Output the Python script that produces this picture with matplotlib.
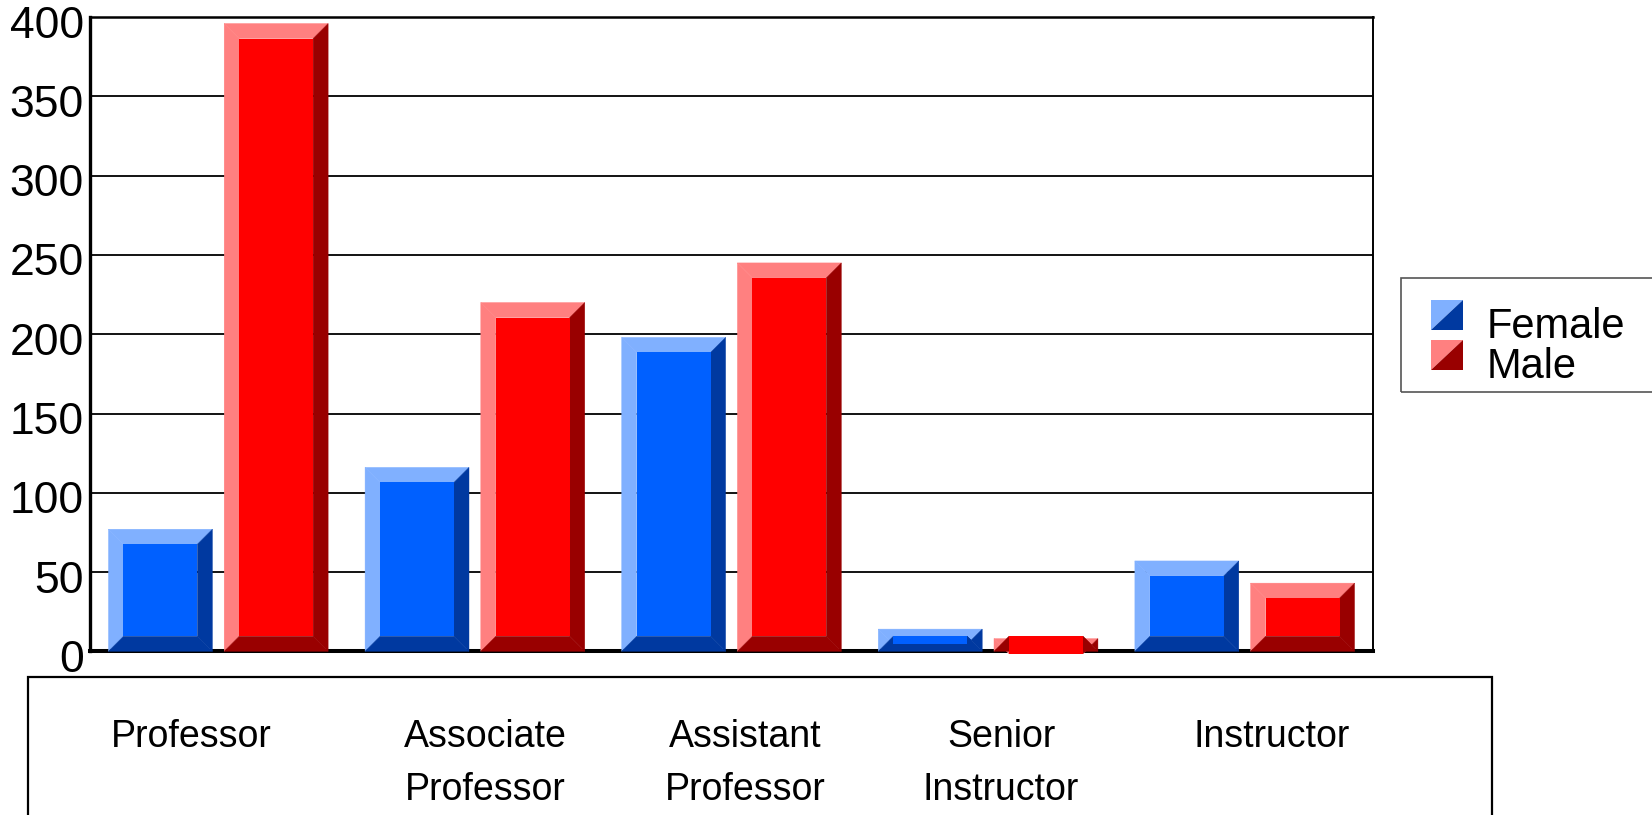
import matplotlib.pyplot as plt
import matplotlib.transforms as mtransforms
from matplotlib.patches import Polygon, Rectangle

# Data
categories = ['Professor', 'Associate\nProfessor', 'Assistant\nProfessor',
              'Senior\nInstructor', 'Instructor']
female = [77, 116, 198, 14, 57]
male = [396, 220, 245, 8, 43]
series_names = ['Female', 'Male']
yticks = [0, 50, 100, 150, 200, 250, 300, 350, 400]

# colours: face, light bevel, dark bevel
female_colors = ('#0060FF', '#80B0FF', '#0039A0')
male_colors = ('#FF0000', '#FF8080', '#990000')

W, H = 1652, 815
fig = plt.figure(figsize=(W / 100, H / 100), dpi=100)
plt.rcParams['font.family'] = ['Liberation Sans', 'DejaVu Sans']


def fx(px):
    return px / W


def fy(py):
    return 1 - py / H


# plot area in pixels
left_px, right_px, top_px, bottom_px = 90, 1373, 17.2, 651.3
ax = fig.add_axes([fx(left_px), fy(bottom_px),
                   fx(right_px) - fx(left_px), fy(top_px) - fy(bottom_px)])
ax.set_xlim(0, len(categories))
ax.set_ylim(0, 400)

# bevel width is a fixed number of pixels, converted to data units
bevel_px = 15
dx = bevel_px * len(categories) / (right_px - left_px)
dy = bevel_px * 400 / (bottom_px - top_px)


def bevel_bar(x0, w, h, colors):
    face, light, dark = colors
    x1 = x0 + w
    ix0, ix1 = x0 + dx, x1 - dx
    it, ib = h - dy, dy
    polys = [
        ([(x0, 0), (x0, h), (ix0, it), (ix0, ib)], light),
        ([(x0, h), (x1, h), (ix1, it), (ix0, it)], light),
        ([(x1, h), (x1, 0), (ix1, ib), (ix1, it)], dark),
        ([(x0, 0), (x1, 0), (ix1, ib), (ix0, ib)], dark),
    ]
    for pts, c in polys:
        ax.add_patch(Polygon(pts, closed=True, facecolor=c, edgecolor=c,
                             lw=0.3, zorder=3, clip_on=False))
    ax.add_patch(Rectangle((ix0, min(it, ib)), ix1 - ix0, abs(it - ib),
                           facecolor=face, edgecolor='none', zorder=4,
                           clip_on=False))


width = 0.405
offset = 0.2255
for i in range(len(categories)):
    c = i + 0.5
    bevel_bar(c - offset - width / 2, width, female[i], female_colors)
    bevel_bar(c + offset - width / 2, width, male[i], male_colors)

# grid and frame
ax.set_yticks(yticks)
ax.set_xticks([])
ax.yaxis.grid(True, color='black', lw=1.3)
ax.set_axisbelow(True)
ax.tick_params(axis='y', length=0, labelleft=False)
ax.spines['left'].set_linewidth(2.4)
ax.spines['top'].set_linewidth(1.8)
ax.spines['right'].set_linewidth(1.4)
ax.spines['bottom'].set_linewidth(2.9)

# y tick labels, shifted a little below their grid lines
shift = mtransforms.ScaledTranslation(-6 / 100, -9 / 100, fig.dpi_scale_trans)
for v in yticks:
    ax.text(0, v, str(v), transform=ax.get_yaxis_transform() + shift,
            ha='right', va='center', fontsize=32)

# category label box underneath
fig.patches.append(Rectangle((fx(28), fy(840)), fx(1492) - fx(28), fy(677) - fy(840),
                             transform=fig.transFigure, fill=False,
                             edgecolor='black', lw=1.6))
label_x = [191, 485, 745, 1001, 1272]
for lx, lab in zip(label_x, categories):
    for j, line in enumerate(lab.split('\n')):
        fig.text(fx(lx), fy(747 + 53 * j), line, ha='center', va='baseline',
                 fontsize=27)

# legend
fig.patches.append(Rectangle((fx(1401), fy(392)), fx(1680) - fx(1401), fy(278) - fy(392),
                             transform=fig.transFigure, fill=False,
                             edgecolor='#555555', lw=1.2))
for k, (name, cols) in enumerate(zip(series_names, [female_colors, male_colors])):
    y0 = 300 + 40 * k
    y1 = y0 + 30
    xa, xb = 1431, 1463
    fig.patches.append(Polygon([(fx(xa), fy(y0)), (fx(xb), fy(y0)), (fx(xa), fy(y1))],
                               closed=True, transform=fig.transFigure,
                               facecolor=cols[1], edgecolor='none'))
    fig.patches.append(Polygon([(fx(xb), fy(y0)), (fx(xb), fy(y1)), (fx(xa), fy(y1))],
                               closed=True, transform=fig.transFigure,
                               facecolor=cols[2], edgecolor='none'))
    fig.text(fx(1487), fy(338 + 40 * k), name, ha='left', va='baseline', fontsize=30)

plt.savefig('out.png', dpi=100)
